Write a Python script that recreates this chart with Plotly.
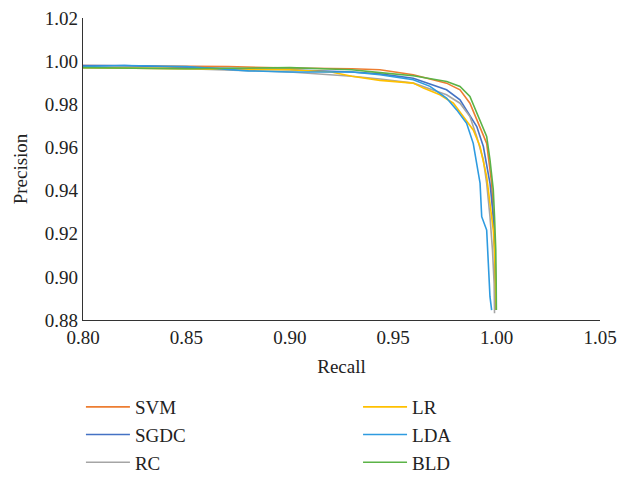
import plotly.graph_objects as go

# ---- data ----
svm_x = [0.80, 0.85, 0.87, 0.90, 0.93, 0.9436, 0.9597, 0.9758, 0.9823, 0.9871, 0.9920, 0.9952, 0.9976, 0.9984, 0.9992, 0.9996, 0.9998]
svm_y = [0.998, 0.9975, 0.9975, 0.9968, 0.9965, 0.9960, 0.9937, 0.9898, 0.9867, 0.9805, 0.9697, 0.9619, 0.9434, 0.9279, 0.9125, 0.8970, 0.8846]

sgdc_x = [0.80, 0.82, 0.85, 0.90, 0.93, 0.9436, 0.9597, 0.9758, 0.9823, 0.9855, 0.9904, 0.9936, 0.9968, 0.9984, 0.9990, 0.9994]
sgdc_y = [0.998, 0.998, 0.997, 0.996, 0.995, 0.9941, 0.9921, 0.9867, 0.9821, 0.9774, 0.9697, 0.9604, 0.9434, 0.9279, 0.9125, 0.8846]

rc_x = [0.80, 0.85, 0.90, 0.93, 0.9436, 0.9597, 0.9758, 0.9823, 0.9871, 0.9904, 0.9936, 0.9952, 0.9968, 0.9980, 0.9988, 0.9990]
rc_y = [0.997, 0.9965, 0.995, 0.993, 0.9917, 0.9898, 0.9844, 0.9805, 0.9743, 0.9650, 0.9542, 0.9434, 0.9279, 0.9125, 0.8970, 0.8831]

lr_x = [0.80, 0.85, 0.90, 0.92, 0.93, 0.9436, 0.9597, 0.9646, 0.9726, 0.9791, 0.9839, 0.9887, 0.9920, 0.9952, 0.9968, 0.9984, 0.9990, 0.9996, 0.9998]
lr_y = [0.997, 0.9965, 0.996, 0.995, 0.993, 0.9911, 0.9898, 0.9875, 0.9844, 0.9805, 0.9743, 0.9681, 0.9604, 0.9465, 0.9341, 0.9217, 0.9125, 0.8970, 0.8846]

lda_x = [0.80, 0.82, 0.85, 0.88, 0.90, 0.93, 0.9436, 0.9597, 0.9678, 0.9758, 0.9807, 0.9855, 0.9887, 0.9920, 0.9928, 0.9952, 0.9960, 0.9968, 0.9976]
lda_y = [0.9975, 0.998, 0.9975, 0.9955, 0.995, 0.995, 0.9937, 0.9914, 0.9883, 0.9829, 0.9774, 0.9712, 0.9619, 0.9434, 0.9279, 0.9217, 0.9063, 0.8908, 0.8846]

bld_x = [0.80, 0.85, 0.90, 0.93, 0.9436, 0.9597, 0.9759, 0.9823, 0.9871, 0.9920, 0.9952, 0.9968, 0.9984, 0.9990, 0.9996, 0.9998, 0.9999]
bld_y = [0.997, 0.9965, 0.997, 0.996, 0.9947, 0.9932, 0.9906, 0.9883, 0.9836, 0.9728, 0.9651, 0.9542, 0.9403, 0.9279, 0.9125, 0.8970, 0.8846]

series = [
    ("SVM", svm_x, svm_y, "#ED7D31", "legend"),
    ("SGDC", sgdc_x, sgdc_y, "#4472C4", "legend"),
    ("RC", rc_x, rc_y, "#A5A5A5", "legend"),
    ("LR", lr_x, lr_y, "#FFC000", "legend2"),
    ("LDA", lda_x, lda_y, "#2E9BE0", "legend2"),
    ("BLD", bld_x, bld_y, "#5BB347", "legend2"),
]

x_ticks = [0.80, 0.85, 0.90, 0.95, 1.00, 1.05]
y_ticks = [0.88, 0.90, 0.92, 0.94, 0.96, 0.98, 1.00, 1.02]

FONT = "'Liberation Serif', 'Times New Roman', serif"
FS = 19

fig = go.Figure()
for name, xs, ys, color, lg in series:
    fig.add_trace(go.Scatter(x=xs, y=ys, mode="lines", name=name,
                             line=dict(color=color, width=1.6), legend=lg))

leg_common = dict(yref="container", y=0.1883, yanchor="top", xanchor="left",
                  orientation="v", font=dict(family=FONT, size=FS, color="#222"),
                  itemwidth=44, bgcolor="rgba(0,0,0,0)")

fig.update_layout(
    width=620, height=478,
    margin=dict(l=83, r=20, t=18, b=158),
    paper_bgcolor="white", plot_bgcolor="white",
    font=dict(family=FONT, size=FS, color="#222"),
    showlegend=True,
    legend=dict(x=-0.004, **leg_common),
    legend2=dict(x=0.532, **leg_common),
)
fig.update_xaxes(range=[0.80, 1.05], tickvals=x_ticks,
                 ticktext=[f"{v:.2f}" for v in x_ticks],
                 showgrid=False, zeroline=False, showline=True, automargin=False,
                 linecolor="#333", linewidth=1.3, ticks="", ticklabeloverflow="allow",
                 title=dict(text="Recall", font=dict(family=FONT, size=FS), standoff=12),
                 tickfont=dict(family=FONT, size=FS))
fig.update_yaxes(range=[0.88, 1.02], tickvals=y_ticks,
                 ticktext=[f"{v:.2f}" for v in y_ticks],
                 showgrid=False, zeroline=False, showline=True, automargin=False,
                 linecolor="#333", linewidth=1.3, ticks="", ticklabeloverflow="allow",
                 title=dict(text="Precision", font=dict(family=FONT, size=FS), standoff=12),
                 tickfont=dict(family=FONT, size=FS))

fig.write_html("out.html",
               config={"displayModeBar": False},
               post_script="document.body.style.margin='0';document.body.style.overflow='hidden';")
